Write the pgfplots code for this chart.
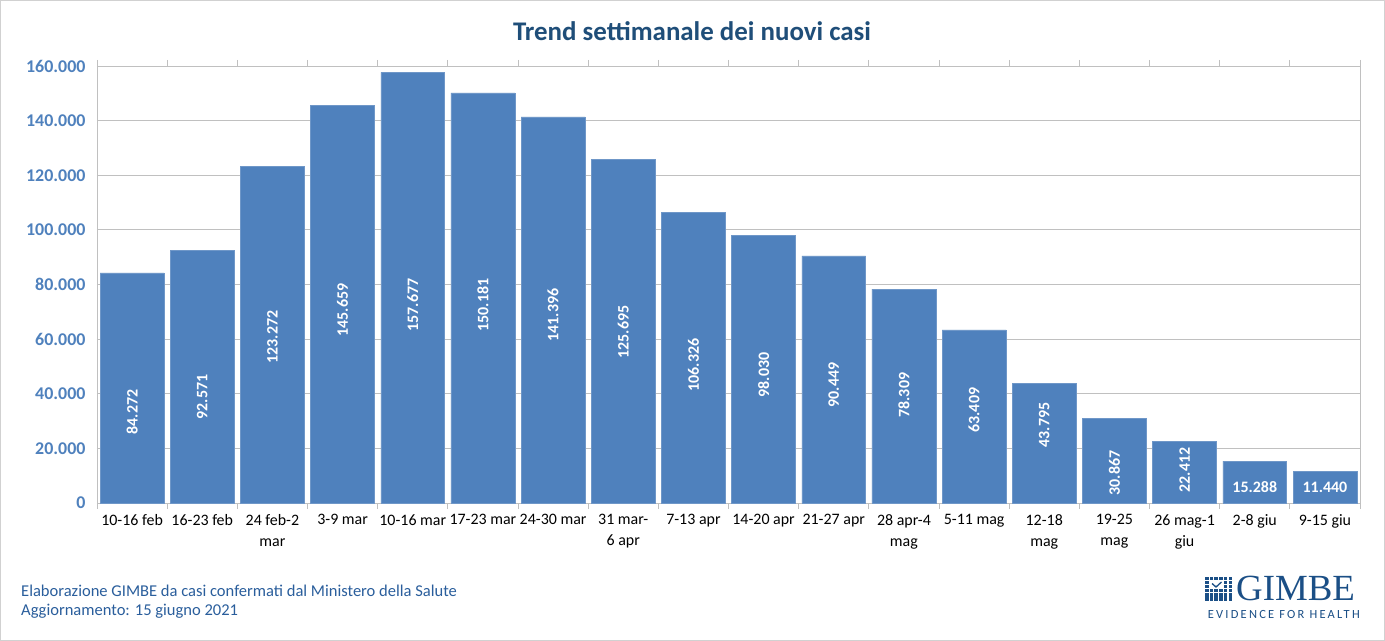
\documentclass[border=0pt]{standalone}
\usepackage{fontspec}
\setmainfont{Carlito}
\newfontfamily\logoserif{Liberation Serif}
\newfontfamily\logosans[LetterSpace=18]{Carlito}
\usepackage{pgfplots}
\pgfplotsset{compat=1.18}
\definecolor{barblue}{HTML}{4F81BD}
\definecolor{baredge}{HTML}{6F97C8}
\definecolor{titleblue}{HTML}{1F4E79}
\definecolor{foot}{HTML}{2A5E9C}
\definecolor{gridgray}{HTML}{C0C0C0}
\definecolor{logoblue}{HTML}{1B4F86}
\begin{document}
\begin{tikzpicture}[x=1bp,y=1bp]
\useasboundingbox (-97,-138) rectangle (1288,503);
\fill[white] (-97,-138) rectangle (1288,503);
\draw[line width=1.5bp, draw=black!18] (-96.25,-137.25) rectangle (1287.25,502.25);
\begin{axis}[
  scale only axis, width=1263bp, height=437bp,
  xmin=-0.5, xmax=17.5, ymin=0, ymax=160000,
  axis line style={draw=gridgray, line width=0.8bp},
  ytick={0,20000,...,160000},
  ymajorgrids, grid style={draw=gridgray, line width=0.8bp},
  major tick length=0pt,
  yticklabel style={font=\bfseries\fontsize{18}{20}\selectfont, text=barblue, xshift=-8bp},
  scaled y ticks=false,
  /pgf/number format/.cd, fixed, 1000 sep={.}, assume math mode=true, /pgfplots/.cd,
  xtick={0,...,17},
  xticklabels={{10-16 feb},{16-23 feb},{24 feb-2\\mar},{3-9 mar},{10-16 mar},{17-23 mar},{24-30 mar},{31 mar-\\6 apr},{7-13 apr},{14-20 apr},{21-27 apr},{28 apr-4\\mag},{5-11 mag},{12-18\\mag},{19-25\\mag},{26 mag-1\\giu},{2-8 giu},{9-15 giu}},
  xticklabel style={font=\fontsize{16}{21}\selectfont, align=center, text=black, yshift=-8bp},
  extra x ticks={-0.5,0.5,...,17.5},
  extra x tick labels={},
  extra x tick style={major tick length=6bp, tick align=outside, tick style={draw=gridgray, line width=0.8bp}},
  clip=false,
]
\addplot[ybar, bar width=0.91, fill=barblue, draw=baredge, line width=0.6bp] coordinates {
(0,84272) (1,92571) (2,123272) (3,145659) (4,157677) (5,150181) (6,141396) (7,125695) (8,106326)
(9,98030) (10,90449) (11,78309) (12,63409) (13,43795) (14,30867) (15,22412) (16,15288) (17,11440)};
\addplot[only marks, mark=none, nodes near coords, nodes near coords align={center}, point meta=explicit symbolic,
  every node near coord/.append style={rotate=90, anchor=center, text=white, font=\bfseries\fontsize{16}{18}\selectfont}]
  table[meta=lab] {
x y lab
0 33300 84.272
1 38800 92.571
2 60800 123.272
3 70700 145.659
4 72500 157.677
5 72500 150.181
6 68800 141.396
7 62600 125.695
8 50500 106.326
9 46900 98.030
10 43200 90.449
11 39500 78.309
12 34000 63.409
13 28600 43.795
14 11000 30.867
15 12100 22.412
};
\addplot[only marks, mark=none, nodes near coords, nodes near coords align={center}, point meta=explicit symbolic,
  every node near coord/.append style={anchor=center, text=white, font=\bfseries\fontsize{16}{18}\selectfont}]
  table[meta=lab] {
x y lab
16 5900 15.288
17 5900 11.440
};
\end{axis}
\node[font=\bfseries\fontsize{27}{30}\selectfont, text=titleblue] at (595,472) {Trend settimanale dei nuovi casi};
\node[anchor=west, font=\fontsize{16.6}{19}\selectfont, text=foot, inner sep=0] at (-76,-88) {Elaborazione GIMBE da casi confermati dal Ministero della Salute};
\node[anchor=west, font=\fontsize{16.6}{19}\selectfont, text=foot, inner sep=0] at (-76,-108) {Aggiornamento: 15 giugno 2021};
% logo
\foreach \i in {0,...,5}{\foreach \j in {0,...,5}{
  \fill[logoblue] (1108+\i*4.7,-74-\j*4.1) rectangle ++(3.6,-3.2);}}
\fill[white] (1112.7,-78.1) rectangle ++(13,-7.1);
\draw[logoblue, line width=1.3bp] (1115,-80.5) -- (1119,-84) -- (1124.5,-79);
\node[anchor=base west, inner sep=0, font=\logoserif\fontsize{37}{37}\selectfont, text=logoblue] at (1139,-98) {GIMBE};
\node[anchor=base east, inner sep=0, font=\logosans\fontsize{12.5}{13}\selectfont, text=logoblue] at (1263,-116) {EVIDENCE FOR HEALTH};
\end{tikzpicture}
\end{document}
